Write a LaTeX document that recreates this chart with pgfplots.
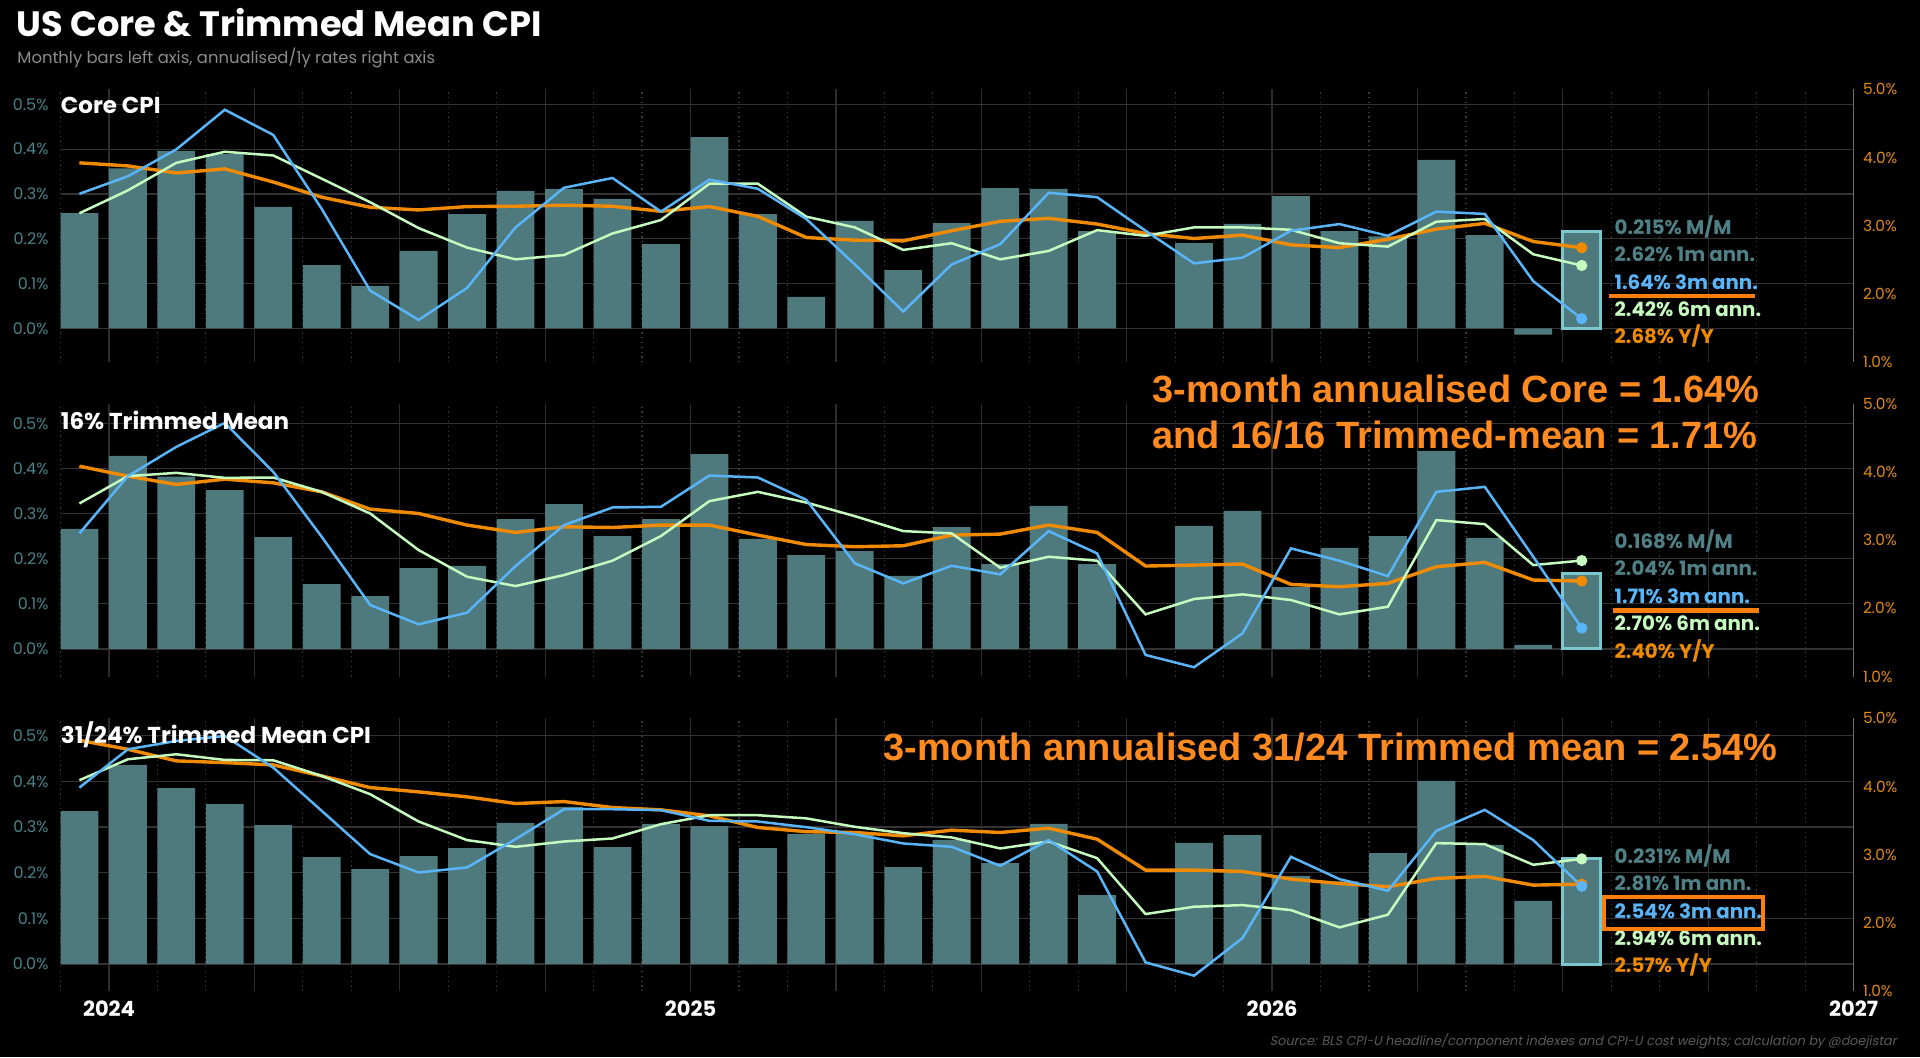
\documentclass[border=0pt]{standalone}
\usepackage{fontspec}
\setmainfont{Poppins}
\newfontfamily\arialf{Liberation Sans}
\newfontfamily\srcfont{Poppins}[FakeSlant=0.2]
\usepackage{pgfplots}
\pgfplotsset{compat=1.18}
\usepackage{pgfplotstable}

\definecolor{barc}{HTML}{4E7A7E}
\definecolor{hlc}{HTML}{7CC6CF}
\definecolor{bluec}{HTML}{5AB4F8}
\definecolor{greenc}{HTML}{C5FBBE}
\definecolor{orangec}{HTML}{F08A00}
\definecolor{annoc}{HTML}{FF8A1F}
\definecolor{annol}{HTML}{FF7F0E}
\definecolor{mmc}{HTML}{4F8086}
\definecolor{lefttick}{HTML}{4A8288}
\definecolor{righttick}{HTML}{E08A14}
\definecolor{gridh}{HTML}{333333}
\definecolor{gridq}{HTML}{2C2C2C}
\definecolor{gridm}{HTML}{3A3A3A}
\definecolor{gridy}{HTML}{444444}
\definecolor{zeroc}{HTML}{8A8A8A}
\definecolor{raxis}{HTML}{6E6E6E}
\definecolor{subc}{HTML}{8C8C8C}
\definecolor{srcc}{HTML}{5A5A5A}

% m = month index (0 = Jan 2024); bar = M/M (left axis); lines = right axis
\pgfplotstableread{
m bar blue green orange
-1 0.257 3.470 3.185 3.924
0 0.357 3.727 3.520 3.879
1 0.396 4.121 3.924 3.776
2 0.389 4.702 4.086 3.835
3 0.271 4.333 4.032 3.643
4 0.141 3.249 3.692 3.421
5 0.095 2.052 3.347 3.273
6 0.173 1.623 2.968 3.234
7 0.255 2.091 2.682 3.283
8 0.307 2.978 2.510 3.288
9 0.311 3.559 2.574 3.303
10 0.289 3.702 2.889 3.288
11 0.188 3.209 3.086 3.214
12 0.427 3.677 3.618 3.283
13 0.255 3.544 3.618 3.140
14 0.070 3.101 3.135 2.830
15 0.240 2.436 2.978 2.791
16 0.130 1.746 2.648 2.781
17 0.235 2.436 2.746 2.929
18 0.313 2.732 2.510 3.067
19 0.311 3.485 2.633 3.111
20 0.217 3.421 2.938 3.027
21 nan 2.929 2.855 2.889
22 0.190 2.451 2.978 2.815
23 0.233 2.534 2.978 2.865
24 0.295 2.929 2.943 2.722
25 0.217 3.027 2.746 2.682
26 0.205 2.855 2.697 2.805
27 0.376 3.209 3.062 2.953
28 0.208 3.175 3.101 3.037
29 -0.014 2.190 2.584 2.771
30 0.215 1.64 2.42 2.68
}\tabA

\pgfplotstableread{
m bar blue green orange
-1 0.266 3.098 3.537 4.083
0 0.428 3.937 3.937 3.937
1 0.382 4.366 3.985 3.815
2 0.352 4.717 3.912 3.893
3 0.248 4.000 3.917 3.839
4 0.144 3.049 3.707 3.707
5 0.117 2.049 3.390 3.454
6 0.179 1.766 2.854 3.390
7 0.184 1.937 2.463 3.220
8 0.288 2.620 2.327 3.112
9 0.321 3.220 2.488 3.195
10 0.250 3.478 2.698 3.185
11 0.288 3.488 3.059 3.220
12 0.432 3.946 3.571 3.220
13 0.244 3.917 3.707 3.073
14 0.208 3.590 3.550 2.935
15 0.217 2.660 3.351 2.903
16 0.162 2.366 3.132 2.917
17 0.270 2.624 3.098 3.073
18 0.188 2.498 2.595 3.088
19 0.317 3.132 2.756 3.220
20 0.188 2.805 2.698 3.112
21 nan 1.317 1.912 2.620
22 0.273 1.137 2.137 2.634
23 0.306 1.634 2.205 2.649
24 0.137 2.878 2.122 2.351
25 0.224 2.698 1.912 2.317
26 0.250 2.473 2.024 2.366
27 0.439 3.707 3.293 2.610
28 0.246 3.780 3.234 2.673
29 0.009 2.756 2.634 2.415
30 0.168 1.71 2.70 2.40
}\tabB

\pgfplotstableread{
m bar blue green orange
-1 0.335 3.985 4.093 4.678
0 0.436 4.546 4.400 4.546
1 0.385 4.668 4.473 4.376
2 0.350 4.741 4.390 4.351
3 0.304 4.278 4.385 4.317
4 0.234 3.644 4.156 4.156
5 0.208 3.010 3.888 3.985
6 0.236 2.741 3.488 3.922
7 0.254 2.815 3.215 3.849
8 0.309 3.229 3.117 3.751
9 0.344 3.668 3.195 3.780
10 0.256 3.668 3.239 3.693
11 0.307 3.654 3.449 3.659
12 0.302 3.498 3.580 3.571
13 0.254 3.488 3.580 3.400
14 0.285 3.405 3.534 3.339
15 0.287 3.302 3.410 3.327
16 0.212 3.166 3.317 3.278
17 0.272 3.117 3.254 3.361
18 0.221 2.839 3.093 3.327
19 0.307 3.215 3.195 3.390
20 0.151 2.756 2.951 3.229
21 nan 1.424 2.132 2.776
22 0.265 1.229 2.239 2.776
23 0.282 1.780 2.263 2.756
24 0.193 2.971 2.190 2.644
25 0.181 2.644 1.937 2.580
26 0.243 2.473 2.122 2.532
27 0.401 3.351 3.171 2.654
28 0.261 3.659 3.156 2.683
29 0.138 3.215 2.854 2.556
30 0.231 2.54 2.94 2.57
}\tabC

\tikzset{
  ptitle/.style={anchor=west, inner sep=0pt, text=white, font=\bfseries\fontsize{11.5pt}{13pt}\selectfont},
  lab/.style={anchor=base west, inner sep=0pt, font=\bfseries\fontsize{9.9pt}{12pt}\selectfont},
}
\pgfplotsset{
  leftax/.style={
    scale only axis, width=896.55pt, height=136.5pt, anchor=south west,
    xmin=-1, xmax=36,
    axis line style={draw=none},
    tick style={draw=none}, major tick length=0pt, minor tick length=0pt,
    xtick={0,3,...,36}, xticklabels={},
    minor xtick={-1,1,2,4,5,7,8,10,11,13,14,16,17,19,20,22,23,25,26,28,29,31,32,34,35},
    xmajorgrids, xminorgrids,
    major x grid style={color=gridq, line width=0.6pt},
    minor x grid style={color=gridm, line width=0.6pt, dash pattern=on 0.6pt off 1.8pt},
    ytick={0.1,0.2,0.3,0.4,0.5},
    yticklabels={0.1\%,0.2\%,0.3\%,0.4\%,0.5\%},
    ymajorgrids, major y grid style={color=gridh, line width=0.6pt},
    extra y ticks={0}, extra y tick labels={0.0\%},
    extra y tick style={grid style={color=zeroc, line width=0.8pt}},
    yticklabel style={color=lefttick, font=\fontsize{8pt}{9pt}\selectfont, xshift=-2.5pt},
    extra x ticks={0,12,24}, extra x tick labels={},
    extra x tick style={grid style={color=gridy, line width=1pt}},
  },
  rightax/.style={
    scale only axis, width=896.55pt, height=136.5pt, anchor=south west,
    xmin=-1, xmax=36, ymin=1, ymax=5,
    axis x line=none, axis y line*=right,
    every outer y axis line/.append style={-},
    y axis line style={-, color=raxis, line width=0.8pt},
    ytick={1,2,3,4,5}, yticklabels={1.0\%,2.0\%,3.0\%,4.0\%,5.0\%},
    yticklabel style={color=righttick, font=\fontsize{7.7pt}{9pt}\selectfont, xshift=1.2pt},
    tick style={draw=none}, major tick length=0pt,
    clip=false,
  },
  barsty/.style={ybar, bar width=0.78, bar shift=0pt, fill=barc, draw=none},
  hlsty/.style={ybar, bar width=0.78, bar shift=0pt, fill=barc, draw=hlc, line width=1.5pt},
  bln/.style={color=bluec, line width=1.25pt},
  gln/.style={color=greenc, line width=1.25pt},
  oln/.style={color=orangec, line width=1.7pt},
}

\begin{document}
\begin{tikzpicture}
\fill[black] (0,0) rectangle (960pt,528.5pt);

\node[anchor=base west, inner sep=0pt, text=white] at (8pt,510.15pt) {\bfseries\fontsize{17.6pt}{20pt}\selectfont US Core \& Trimmed Mean CPI};
\node[anchor=base west, inner sep=0pt, text=subc] at (8.5pt,496.6pt) {\fontsize{8.2pt}{9pt}\selectfont Monthly bars left axis, annualised/1y rates right axis};

% ---------------- Panel 1: Core CPI
\begin{axis}[leftax, at={(30.25pt,347.3pt)}, ymin=-0.0761, ymax=0.5333]
\addplot[barsty] table[x expr=\thisrow{m}+0.39, y=bar] \tabA;
\addplot[hlsty] coordinates {(30.39,0.215)};
\end{axis}
\begin{axis}[rightax, at={(30.25pt,347.3pt)}]
\addplot[oln] table[x expr=\thisrow{m}+0.39, y=orange] \tabA;
\addplot[gln] table[x expr=\thisrow{m}+0.39, y=green] \tabA;
\addplot[bln] table[x expr=\thisrow{m}+0.39, y=blue] \tabA;
\addplot[only marks, mark=*, mark size=2.6pt, color=orangec] coordinates {(30.39,2.68)};
\addplot[only marks, mark=*, mark size=2.6pt, color=greenc] coordinates {(30.39,2.42)};
\addplot[only marks, mark=*, mark size=2.6pt, color=bluec] coordinates {(30.39,1.64)};
\node[ptitle] at (axis cs:-1,4.76) {Core CPI};
\node[lab, text=mmc] at (axis cs:31.06,2.87) {0.215\% M/M};
\node[lab, text=mmc] at (axis cs:31.06,2.48) {2.62\% 1m ann.};
\node[lab, text=bluec] at (axis cs:31.06,2.07) {1.64\% 3m ann.};
\node[lab, text=greenc] at (axis cs:31.06,1.67) {2.42\% 6m ann.};
\node[lab, text=orangec] at (axis cs:31.06,1.27) {2.68\% Y/Y};
\draw[annol, line width=2.2pt] (axis cs:30.95,1.975) -- (axis cs:33.97,1.975);
\end{axis}

% ---------------- Panel 2: 16% Trimmed Mean
\begin{axis}[leftax, at={(30.25pt,190.2pt)}, ymin=-0.0612, ymax=0.5438]
\addplot[barsty] table[x expr=\thisrow{m}+0.39, y=bar] \tabB;
\addplot[hlsty] coordinates {(30.39,0.168)};
\end{axis}
\begin{axis}[rightax, at={(30.25pt,190.2pt)}]
\addplot[oln] table[x expr=\thisrow{m}+0.39, y=orange] \tabB;
\addplot[gln] table[x expr=\thisrow{m}+0.39, y=green] \tabB;
\addplot[bln] table[x expr=\thisrow{m}+0.39, y=blue] \tabB;
\addplot[only marks, mark=*, mark size=2.6pt, color=orangec] coordinates {(30.39,2.40)};
\addplot[only marks, mark=*, mark size=2.6pt, color=greenc] coordinates {(30.39,2.70)};
\addplot[only marks, mark=*, mark size=2.6pt, color=bluec] coordinates {(30.39,1.71)};
\node[ptitle] at (axis cs:-1,4.76) {16\% Trimmed Mean};
\node[lab, text=mmc] at (axis cs:31.06,2.87) {0.168\% M/M};
\node[lab, text=mmc] at (axis cs:31.06,2.48) {2.04\% 1m ann.};
\node[lab, text=bluec] at (axis cs:31.06,2.07) {1.71\% 3m ann.};
\node[lab, text=greenc] at (axis cs:31.06,1.67) {2.70\% 6m ann.};
\node[lab, text=orangec] at (axis cs:31.06,1.27) {2.40\% Y/Y};
\draw[annol, line width=2.2pt] (axis cs:31.03,1.97) -- (axis cs:34.04,1.97);
\end{axis}

% ---------------- Panel 3: 31/24% Trimmed Mean CPI
\begin{axis}[leftax, at={(30.25pt,32.85pt)}, ymin=-0.0598, ymax=0.538,
  extra x ticks={0,12,24,36}, extra x tick labels={2024,2025,2026,2027},
  extra x tick style={grid style={color=gridy, line width=1pt},
    xticklabel style={text=white, font=\bfseries\fontsize{10.5pt}{12pt}\selectfont, yshift=-1pt}}]
\addplot[barsty] table[x expr=\thisrow{m}+0.39, y=bar] \tabC;
\addplot[hlsty] coordinates {(30.39,0.231)};
\end{axis}
\begin{axis}[rightax, at={(30.25pt,32.85pt)}]
\addplot[oln] table[x expr=\thisrow{m}+0.39, y=orange] \tabC;
\addplot[gln] table[x expr=\thisrow{m}+0.39, y=green] \tabC;
\addplot[bln] table[x expr=\thisrow{m}+0.39, y=blue] \tabC;
\addplot[only marks, mark=*, mark size=2.6pt, color=orangec] coordinates {(30.39,2.57)};
\addplot[only marks, mark=*, mark size=2.6pt, color=greenc] coordinates {(30.39,2.94)};
\addplot[only marks, mark=*, mark size=2.6pt, color=bluec] coordinates {(30.39,2.54)};
\node[ptitle] at (axis cs:-1,4.76) {31/24\% Trimmed Mean CPI};
\node[lab, text=mmc] at (axis cs:31.06,2.87) {0.231\% M/M};
\node[lab, text=mmc] at (axis cs:31.06,2.48) {2.81\% 1m ann.};
\node[lab, text=bluec] at (axis cs:31.06,2.07) {2.54\% 3m ann.};
\node[lab, text=greenc] at (axis cs:31.06,1.67) {2.94\% 6m ann.};
\node[lab, text=orangec] at (axis cs:31.06,1.27) {2.57\% Y/Y};
\draw[annol, line width=2pt] (axis cs:30.85,1.908) rectangle (axis cs:34.12,2.386);
\end{axis}

% ---------------- big annotations
\node[anchor=base west, inner sep=0pt, text=annoc] at (576pt,327.35pt) {\arialf\bfseries\fontsize{19pt}{22pt}\selectfont 3-month annualised Core = 1.64\%};
\node[anchor=base west, inner sep=0pt, text=annoc] at (576pt,304.35pt) {\arialf\bfseries\fontsize{19pt}{22pt}\selectfont and 16/16 Trimmed-mean = 1.71\%};
\node[anchor=base east, inner sep=0pt, text=annoc] at (889pt,148.15pt) {\arialf\bfseries\fontsize{19pt}{22pt}\selectfont 3-month annualised 31/24 Trimmed mean = 2.54\%};

\node[anchor=base east, inner sep=0pt, text=srcc] at (948.5pt,6pt) {\srcfont\fontsize{6.4pt}{7pt}\selectfont Source: BLS CPI-U headline/component indexes and CPI-U cost weights; calculation by @doejistar};

\pgfresetboundingbox
\path[use as bounding box] (0,0) rectangle (960pt,528.5pt);
\end{tikzpicture}
\end{document}
